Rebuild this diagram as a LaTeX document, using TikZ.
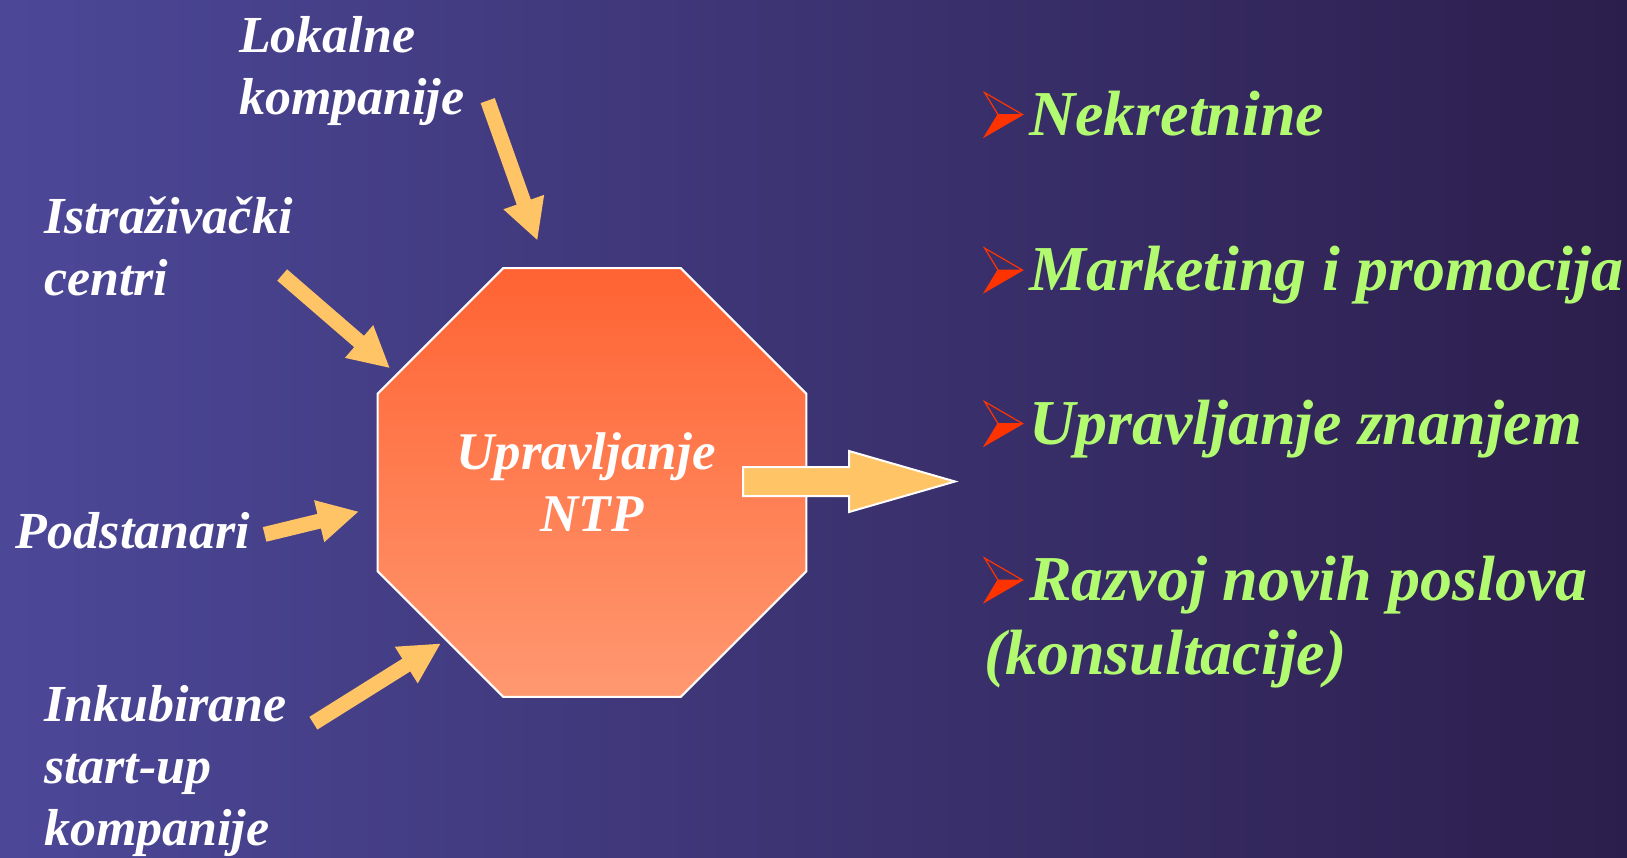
\documentclass[tikz,border=0pt]{standalone}
\usepackage{fontspec}
\setmainfont{Liberation Serif}
\usetikzlibrary{arrows.meta,positioning,shapes.geometric}
\definecolor{bgleft}{RGB}{76,72,152}
\definecolor{bgmid}{RGB}{62,52,122}
\definecolor{bgright}{RGB}{44,30,76}
\definecolor{octtop}{RGB}{255,99,51}
\definecolor{octbot}{RGB}{255,152,112}
\definecolor{arrowyel}{RGB}{255,196,102}
\definecolor{itemgreen}{RGB}{178,250,112}
\definecolor{bulred}{RGB}{255,51,0}
\tikzset{
  srclabel/.style={anchor=base west, inner sep=0pt, align=left, text=white, font=\fontsize{26}{31}\selectfont\bfseries\itshape},
  item/.style={anchor=base west, inner sep=0pt, align=left, text=itemgreen, font=\fontsize{32}{37}\selectfont\bfseries\itshape},
  octagon/.style={regular polygon, regular polygon sides=8, minimum size=232pt, inner sep=0pt, top color=octtop, bottom color=octbot, draw=white, line width=1pt, text=white, align=center, font=\fontsize{26.5}{31}\selectfont\bfseries\itshape},
  feed/.style={draw=arrowyel, line width=7.5pt, -{Triangle[length=20.5pt, width=20pt]}},
  bigarrow/.style={fill=arrowyel, draw=white, line width=1pt, line join=miter},
}
\newcommand{\bulmark}{\tikz[baseline=0.8pt, x=1pt, y=1pt]{%
  \fill[bulred] (6.7,11) -- (19,11) -- (0,0) -- cycle;
  \draw[bulred, line width=0.6pt, line join=miter] (0,22) -- (19,11) -- (0,0) -- (6.7,11) -- cycle (6.7,11) -- (19,11);}}

\begin{document}
\begin{tikzpicture}[x=0.5pt, y=-0.5pt]
  \shade[left color=bgleft, middle color=bgmid, right color=bgright] (0,0) rectangle (1627,857);
  \useasboundingbox (0,0) rectangle (1627,857);

  % centre
  \node[octagon] (ntp) at (592,482.5) {Upravljanje\hspace*{6pt}\\NTP};

  % sources (base = last line)
  \node[srclabel] (lok) at (238.6,114) {Lokalne\\kompanije};
  \node[srclabel] (ist) at (43.6,295.7) {Istraživački\\centri};
  \node[srclabel] (pod) at (15.6,548) {Podstanari};
  \node[srclabel] (ink) at (43.6,845.6) {Inkubirane\\start-up\\kompanije};

  \coordinate (lokS) at (487.7,100.6);
  \coordinate (lokE) at (537.5,240.7);
  \coordinate (istS) at (282.2,275);
  \coordinate (istE) at (390.1,368.3);
  \coordinate (podS) at (264.6,534.4);
  \coordinate (podE) at (359,511.5);
  \coordinate (inkS) at (313.4,723.2);
  \coordinate (inkE) at (441,643.3);

  \draw[feed] (lokS) -- (lokE);
  \draw[feed] (istS) -- (istE);
  \draw[feed] (podS) -- (podE);
  \draw[feed] (inkS) -- (inkE);

  % output
  \coordinate (outS) at (743,481.5);
  \coordinate (outE) at (955,481.5);
  \draw[bigarrow] (outS) ++(0,-14.5) -- ++(106,0) -- ++(0,-16) -- (outE)
    -- ++(-106,30.5) -- ++(0,-16) -- ++(-106,0) -- cycle;

  % services
  \node[item] (nek) at (983.6,135) {\bulmark\hspace{3pt}Nekretnine};
  \node[item] (mar) at (983.6,290.5) {\bulmark\hspace{3pt}Marketing i promocija};
  \node[item] (upr) at (983.6,444) {\bulmark\hspace{3pt}Upravljanje znanjem};
  \node[item] (raz) at (983.6,674.5) {\bulmark\hspace{3pt}Razvoj novih poslova\\(konsultacije)};
\end{tikzpicture}
\end{document}
